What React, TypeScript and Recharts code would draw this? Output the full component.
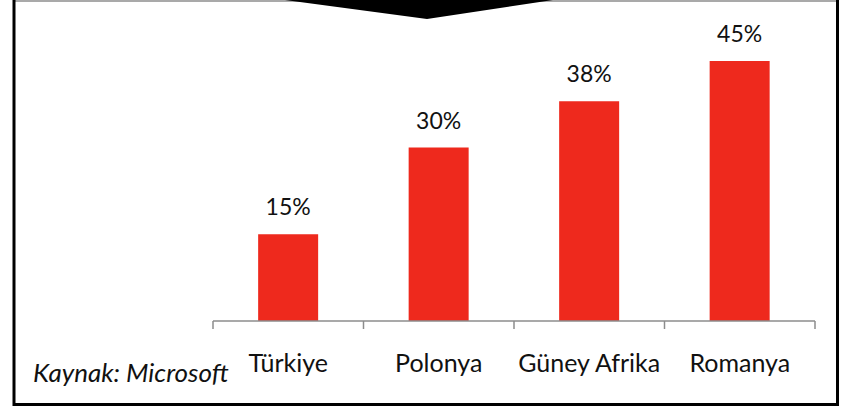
import * as React from 'react'
import { Bar, BarChart, LabelList, XAxis, YAxis } from 'recharts'

const countries = ['Türkiye', 'Polonya', 'Güney Afrika', 'Romanya']
const shares = [15, 30, 38, 45]

const data = countries.map((name, i) => ({ name, share: shares[i] }))

const RED = '#EE291D'
const AXIS = '#8c8c8c'
const FONT = 'Lato, "Noto Sans", sans-serif'

// category label plus the boundary tick marks (Excel draws ticks between categories)
function CategoryTick(props: any) {
  const { x, y, payload, index } = props
  const half = payload.offset ?? 0
  const axisY = y - 8
  const last = index === countries.length - 1
  return (
    <g>
      <line x1={x - half} x2={x - half} y1={axisY} y2={axisY + 8} stroke={AXIS} strokeWidth={1.5} />
      {last && (
        <line x1={x + half} x2={x + half} y1={axisY} y2={axisY + 8} stroke={AXIS} strokeWidth={1.5} />
      )}
      <text x={x} y={axisY + 51} textAnchor="middle" fontSize={25} fill="#111" fontFamily={FONT}>
        {payload.value}
      </text>
    </g>
  )
}

export default function App() {
  return (
    <div style={{ position: 'fixed', left: 0, top: 0, width: 846, height: 409, background: '#fff' }}>
      <BarChart
        width={846}
        height={409}
        data={data}
        margin={{ top: 32, right: 31, bottom: 28, left: 213 }}
        barCategoryGap="30%"
      >
        <XAxis
          dataKey="name"
          height={60}
          tickSize={8}
          tickMargin={0}
          tickLine={false}
          axisLine={{ stroke: AXIS, strokeWidth: 1.5 }}
          tick={<CategoryTick />}
          interval={0}
        />
        <YAxis hide domain={[0, 50]} width={0} />
        <Bar dataKey="share" fill={RED} isAnimationActive={false}>
          <LabelList
            dataKey="share"
            position="top"
            offset={19}
            formatter={(v: any) => `${v}%`}
            fill="#111"
            fontSize={23}
            fontFamily={FONT}
          />
        </Bar>
      </BarChart>
      <svg
        width={846}
        height={409}
        style={{ position: 'absolute', left: 0, top: 0, pointerEvents: 'none' }}
      >
        <line x1={15} x2={837} y1={1} y2={1} stroke="#555" strokeWidth={1.2} />
        <line x1={14} x2={14} y1={0} y2={406} stroke="#000" strokeWidth={3} />
        <line x1={837.5} x2={837.5} y1={0} y2={406} stroke="#000" strokeWidth={3} />
        <line x1={13} x2={839} y1={404.5} y2={404.5} stroke="#000" strokeWidth={3} />
        <polygon points="285,0 553,0 427,19" fill="#000" />
        <text
          x={33}
          y={382}
          fontSize={26}
          fontStyle="italic"
          fill="#111"
          fontFamily={FONT}
        >
          Kaynak: Microsoft
        </text>
      </svg>
    </div>
  )
}
